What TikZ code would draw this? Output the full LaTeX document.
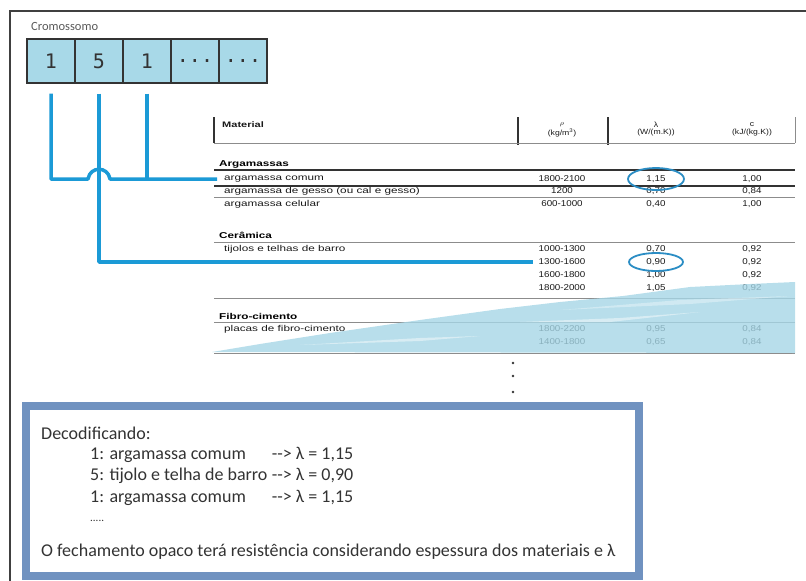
\documentclass[tikz,border=0pt]{standalone}
\usepackage{fontspec}
\setmainfont{Carlito}
\newfontfamily\tabfont[FakeStretch=1.38]{Liberation Sans}
\newfontfamily\valfont[FakeStretch=1.15]{Liberation Sans}
\newfontfamily\chromfont{DejaVu Sans Mono}
\usetikzlibrary{calc}
\definecolor{wireblue}{HTML}{1B9AD6}
\definecolor{cellblue}{HTML}{A8D9E8}
\definecolor{framebl}{HTML}{7092C0}
\definecolor{ringblue}{HTML}{2B8DC4}
\definecolor{smearblue}{HTML}{A6D6E6}
\tikzset{
  cell/.style={draw=black!80, line width=1.2pt, fill=cellblue, minimum width=48pt, minimum height=44pt, inner sep=0pt, font=\chromfont\fontsize{20}{20}\selectfont, text=black!80},
  wire/.style={draw=wireblue, line width=3.5pt},
  tt/.style={font=\valfont\fontsize{8.5}{9}\selectfont, text=black!90, inner sep=0pt},
  ttw/.style={font=\tabfont\fontsize{8.5}{9}\selectfont, text=black!90, inner sep=0pt, anchor=west},
  ttb/.style={font=\tabfont\bfseries\fontsize{8.5}{9}\selectfont, text=black, inner sep=0pt, anchor=west},
  hd/.style={font=\valfont\fontsize{7.5}{8}\selectfont, text=black!90, inner sep=0pt},
  darkrule/.style={draw=black!80, line width=1.3pt},
  thinrule/.style={draw=black!45, line width=0.8pt},
  ring/.style={draw=ringblue, line width=1.8pt},
  dec/.style={font=\fontsize{18}{20}\selectfont, text=black!80, inner sep=0pt, anchor=west},
  framerule/.style={draw=black!75, line width=2pt}
}
\begin{document}
\begin{tikzpicture}[x=1pt, y=-1pt]
\useasboundingbox (0,0) rectangle (806,581);
% outer open frame
\draw[framerule] (10,581) -- (10,11) -- (806,11);
% chromosome
\node[anchor=west, inner sep=0pt, font=\fontsize{12.5}{12}\selectfont, text=black!65] (crom) at (31,26) {Cromossomo};
\node[cell] (b1) at (51,61) {1};
\node[cell] (b2) at (99,61) {5};
\node[cell] (b3) at (147,61) {1};
\node[cell] (b4) at (195,61) {...};
\node[cell] (b5) at (243,61) {...};

% table header
\draw[darkrule] (214,117) -- (214,143);
\draw[darkrule] (518,117) -- (518,145);
\draw[darkrule] (608,117) -- (608,145);
\draw[thinrule] (795,117) -- (795,143);
\draw[thinrule] (214,143) -- (795,143);
\node[ttw, font=\tabfont\bfseries\fontsize{8}{9}\selectfont] (mat) at (222,125) {Material};
\node[hd] (hrho) at (562,125) {$\rho$};
\node[hd] (hrhou) at (562,133) {(kg/m\textsuperscript{3})};
\node[hd] (hlam) at (656,125) {λ};
\node[hd] (hlamu) at (656,133) {(W/(m.K))};
\node[hd] (hc) at (752,125) {c};
\node[hd] (hcu) at (752,133) {(kJ/(kg.K))};

% Argamassas
\node[ttb] (arg) at (219,164) {Argamassas};
\draw[darkrule] (214,170) -- (795,170);
\node[ttw] (r1) at (224,179) {argamassa comum};
\draw[darkrule] (214,186) -- (795,186);
\node[ttw] (r2) at (224,191) {argamassa de gesso (ou cal e gesso)};
\draw[thinrule] (214,197) -- (795,197);
\node[ttw] (r3) at (224,204) {argamassa celular};
\node[tt] (v11) at (562,179) {1800-2100};
\node[tt] (v12) at (656,179) {1,15};
\node[tt] (v13) at (752,179) {1,00};
\node[tt] (v21) at (562,191) {1200};
\node[tt] (v22) at (656,191) {0,70};
\node[tt] (v23) at (752,191) {0,84};
\node[tt] (v31) at (562,204) {600-1000};
\node[tt] (v32) at (656,204) {0,40};
\node[tt] (v33) at (752,204) {1,00};

% Ceramica
\node[ttb] (cer) at (219,235) {Cerâmica};
\draw[thinrule] (214,242) -- (795,242);
\node[ttw] (r4) at (224,249) {tijolos e telhas de barro};
\node[tt] (c11) at (562,249) {1000-1300};
\node[tt] (c12) at (656,249) {0,70};
\node[tt] (c13) at (752,249) {0,92};
\node[tt] (c21) at (562,262) {1300-1600};
\node[tt] (c22) at (656,262) {0,90};
\node[tt] (c23) at (752,262) {0,92};
\node[tt] (c31) at (562,275) {1600-1800};
\node[tt] (c32) at (656,275) {1,00};
\node[tt] (c33) at (752,275) {0,92};
\node[tt] (c41) at (562,288) {1800-2000};
\node[tt] (c42) at (656,288) {1,05};
\node[tt] (c43) at (752,288) {0,92};
\draw[thinrule] (214,298) -- (795,298);

% Fibro-cimento
\node[ttb] (fib) at (219,316) {Fibro-cimento};
\draw[thinrule] (214,322) -- (795,322);
\node[ttw] (r5) at (224,329) {placas de fibro-cimento};
\node[tt] (f11) at (562,329) {1800-2200};
\node[tt] (f12) at (656,329) {0,95};
\node[tt] (f13) at (752,329) {0,84};
\node[tt] (f21) at (562,342) {1400-1800};
\node[tt] (f22) at (656,342) {0,65};
\node[tt] (f23) at (752,342) {0,84};
\draw[thinrule] (214,353) -- (795,353);

% smear
\fill[smearblue, fill opacity=0.8] (212,352) -- (260,344) -- (330,333) -- (420,320) -- (500,309) -- (560,302) -- (623,296) -- (690,287) -- (750,284) -- (795,282) -- (795,353) -- cycle;
\fill[white, fill opacity=0.45] (300,345) -- (420,338) -- (480,336) -- (420,341) -- cycle;
\fill[white, fill opacity=0.45] (520,322) -- (620,318) -- (700,312) -- (610,322) -- cycle;
\fill[white, fill opacity=0.35] (560,310) -- (680,300) -- (790,296) -- (690,304) -- cycle;

% rings
\draw[ring] (v12) ellipse [x radius=28pt, y radius=11pt];
\draw[ring] (c22) ellipse [x radius=27pt, y radius=9pt];

% connectors
\coordinate (e1) at (217,179);
\coordinate (e2) at (533,262);
\draw[wire] ([yshift=-10pt]b3.south) -- (b3.south |- e1);
\draw[wire, line join=round] ([yshift=-10pt]b1.south) -- (b1.south |- e1) -- ([xshift=-11pt]b2.south |- e1) .. controls ([xshift=-9pt,yshift=13pt]b2.south |- e1) and ([xshift=9pt,yshift=13pt]b2.south |- e1) .. ([xshift=11pt]b2.south |- e1) -- (e1);
\draw[wire, line join=round] ([yshift=-10pt]b2.south) -- (b2.south |- e2) -- (e2);

% dots
\fill[black!80] (513,363) circle[radius=1.4pt];
\fill[black!80] (513,376) circle[radius=1.4pt];
\fill[black!80] (513,392) circle[radius=1.4pt];

% decode box
\draw[draw=framebl, line width=8pt] (26,406) rectangle (639,576);
\node[dec] (d0) at (41,433) {Decodificando:};
\node[dec] (d2) at (90,476) {5: tijolo e telha de barro};
\node[dec, anchor=west] (d2b) at ([xshift=4pt]d2.east) {-{}-{}> λ = 0,90};
\node[dec] (d1) at (90,455) {1: argamassa comum};
\node[dec, anchor=east] (d1b) at (d2b.east |- d1.east) {-{}-{}> λ = 1,15};
\node[dec] (d3) at (90,498) {1: argamassa comum};
\node[dec, anchor=east] (d3b) at (d2b.east |- d3.east) {-{}-{}> λ = 1,15};
\node[dec, font=\fontsize{11}{12}\selectfont] (d4) at (90,521) {.....};
\node[dec] (d5) at (41,552) {O fechamento opaco terá resistência considerando espessura dos materiais e λ};
\end{tikzpicture}
\end{document}
